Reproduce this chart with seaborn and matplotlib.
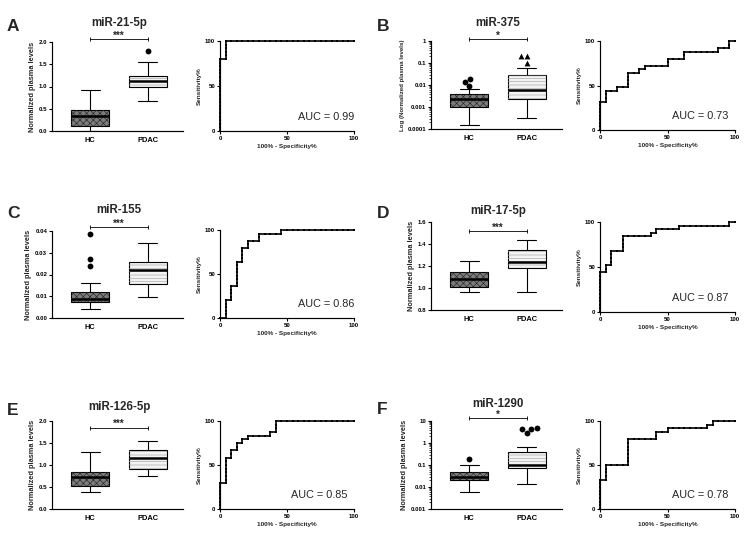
import matplotlib
matplotlib.use("Agg")
import numpy as np
import pandas as pd
import matplotlib.pyplot as plt
import matplotlib.patches as mpatches
import matplotlib.transforms as mtransforms
import seaborn as sns

groups = ["HC", "PDAC"]
titles = ["miR-21-5p", "miR-375", "miR-155", "miR-17-5p", "miR-126-5p", "miR-1290"]
letters = ["A", "B", "C", "D", "E", "F"]
stars = ["***", "*", "***", "***", "***", "*"]
auc = ["0.99", "0.73", "0.86", "0.87", "0.85", "0.78"]

# box summaries: min, q1, median, q3, max
a_hc = [0.0, 0.12, 0.34, 0.47, 0.92]
a_pdac = [0.68, 0.98, 1.12, 1.24, 1.54]
b_hc = [0.00015, 0.001, 0.0022, 0.0037, 0.0066]
b_pdac = [0.00033, 0.0024, 0.0058, 0.03, 0.058]
c_hc = [0.0042, 0.0073, 0.0088, 0.0118, 0.0161]
c_pdac = [0.0096, 0.0156, 0.0222, 0.0257, 0.0347]
d_hc = [0.961, 1.009, 1.082, 1.142, 1.248]
d_pdac = [0.961, 1.179, 1.239, 1.342, 1.439]
e_hc = [0.38, 0.53, 0.73, 0.83, 1.30]
e_pdac = [0.76, 0.91, 1.17, 1.33, 1.55]
f_hc = [0.0062, 0.020, 0.030, 0.049, 0.10]
f_pdac = [0.014, 0.072, 0.095, 0.40, 0.65]

# outliers
a_out_hc, a_out_pdac = [], [1.79]
b_out_hc, b_out_pdac = [0.0093, 0.014, 0.019], [0.097, 0.2, 0.2]
c_out_hc, c_out_pdac = [0.0238, 0.0269, 0.0386], []
d_out_hc, d_out_pdac = [], []
e_out_hc, e_out_pdac = [], []
f_out_hc, f_out_pdac = [0.19], [2.8, 4.2, 4.5, 4.8]

yticks = [[0.0, 0.5, 1.0, 1.5, 2.0], [1e-4, 1e-3, 1e-2, 1e-1, 1],
          [0.0, 0.01, 0.02, 0.03, 0.04], [0.8, 1.0, 1.2, 1.4, 1.6],
          [0.0, 0.5, 1.0, 1.5, 2.0], [1e-3, 1e-2, 1e-1, 1, 10]]
yticklabels = [["0.0", "0.5", "1.0", "1.5", "2.0"], ["0.0001", "0.001", "0.01", "0.1", "1"],
               ["0.00", "0.01", "0.02", "0.03", "0.04"], ["0.8", "1.0", "1.2", "1.4", "1.6"],
               ["0.0", "0.5", "1.0", "1.5", "2.0"], ["0.001", "0.01", "0.1", "1", "10"]]
ylabels = ["Normalized plasma levels", "Log (Normalized plasma levels)",
           "Normalized plasma levels", "Normalized plasma levels",
           "Normalized plasma levels", "Normalized plasma levels"]

# ROC points as counts (false positives of 24 HC, true positives of n PDAC)
n_hc = 24
n_pdac = [25, 25, 25, 25, 24, 24]
roc_a_fp = [0, 0, 0, 0, 0, 0, 0, 0, 0, 0, 0, 0, 0, 0, 0, 0, 0, 0, 0, 0, 0,
            1, 1, 1, 1, 1, 1,
            2, 3, 4, 5, 6, 7, 8, 9, 10, 11, 12, 13, 14, 15, 16, 17, 18, 19, 20, 21, 22, 23, 24]
roc_a_tp = [0, 1, 2, 3, 4, 5, 6, 7, 8, 9, 10, 11, 12, 13, 14, 15, 16, 17, 18, 19, 20,
            20, 21, 22, 23, 24, 25,
            25, 25, 25, 25, 25, 25, 25, 25, 25, 25, 25, 25, 25, 25, 25, 25, 25, 25, 25, 25, 25, 25, 25]
roc_b_fp = [0, 0, 0, 0, 0, 0, 0, 0, 0,
            1, 1, 1, 1,
            2, 3, 3,
            4, 5, 5, 5, 5, 5,
            6, 7, 7,
            8, 8,
            9, 10, 11, 12, 12, 12,
            13, 14, 15, 15, 15,
            16, 17, 18, 19, 20, 21, 21,
            22, 23, 23, 23,
            24]
roc_b_tp = [0, 1, 2, 3, 4, 5, 6, 7, 8,
            8, 9, 10, 11,
            11, 11, 12,
            12, 12, 13, 14, 15, 16,
            16, 16, 17,
            17, 18,
            18, 18, 18, 18, 19, 20,
            20, 20, 20, 21, 22,
            22, 22, 22, 22, 22, 22, 23,
            23, 23, 24, 25,
            25]
roc_c_fp = [0, 1,
            1, 1, 1, 1, 1,
            2, 2, 2, 2, 2,
            3, 3, 3, 3, 3, 3, 3, 3,
            4, 4, 4, 4, 4,
            5, 5, 5,
            6, 7, 7, 7,
            8, 9, 10, 11, 11,
            12, 13, 14, 15, 16, 17, 18, 19, 20, 21, 22, 23, 24]
roc_c_tp = [0, 0,
            1, 2, 3, 4, 5,
            5, 6, 7, 8, 9,
            9, 10, 11, 12, 13, 14, 15, 16,
            16, 17, 18, 19, 20,
            20, 21, 22,
            22, 22, 23, 24,
            24, 24, 24, 24, 25,
            25, 25, 25, 25, 25, 25, 25, 25, 25, 25, 25, 25, 25]
roc_d_fp = [0, 0, 0, 0, 0, 0, 0, 0, 0, 0, 0, 0,
            1, 1, 1,
            2, 2, 2, 2, 2,
            3, 4, 4, 4, 4, 4,
            5, 6, 7, 8, 9, 9,
            10, 10,
            11, 12, 13, 14, 14,
            15, 16, 17, 18, 19, 20, 21, 22, 23, 23,
            24]
roc_d_tp = [0, 1, 2, 3, 4, 5, 6, 7, 8, 9, 10, 11,
            11, 12, 13,
            13, 14, 15, 16, 17,
            17, 17, 18, 19, 20, 21,
            21, 21, 21, 21, 21, 22,
            22, 23,
            23, 23, 23, 23, 24,
            24, 24, 24, 24, 24, 24, 24, 24, 24, 25,
            25]
roc_e_fp = [0, 0, 0, 0, 0, 0, 0, 0,
            1, 1, 1, 1, 1, 1, 1, 1,
            2, 2, 2,
            3, 3, 3,
            4, 4,
            5, 5,
            6, 7, 8, 9, 9,
            10, 10, 10, 10,
            11, 12, 13, 14, 15, 16, 17, 18, 19, 20, 21, 22, 23, 24]
roc_e_tp = [0, 1, 2, 3, 4, 5, 6, 7,
            7, 8, 9, 10, 11, 12, 13, 14,
            14, 15, 16,
            16, 17, 18,
            18, 19,
            19, 20,
            20, 20, 20, 20, 21,
            21, 22, 23, 24,
            24, 24, 24, 24, 24, 24, 24, 24, 24, 24, 24, 24, 24, 24]
roc_f_fp = [0, 0, 0, 0, 0, 0, 0, 0, 0,
            1, 1, 1, 1, 1,
            2, 3, 4, 5,
            5, 5, 5, 5, 5, 5, 5,
            6, 7, 8, 9, 10,
            10, 10,
            11, 12, 12,
            13, 14, 15, 16, 17, 18, 19,
            19, 20, 20,
            21, 22, 23, 24]
roc_f_tp = [0, 1, 2, 3, 4, 5, 6, 7, 8,
            8, 9, 10, 11, 12,
            12, 12, 12, 12,
            13, 14, 15, 16, 17, 18, 19,
            19, 19, 19, 19, 19,
            20, 21,
            21, 21, 22,
            22, 22, 22, 22, 22, 22, 22,
            23, 23, 24,
            24, 24, 24, 24]

box_data = [(a_hc, a_pdac), (b_hc, b_pdac), (c_hc, c_pdac),
            (d_hc, d_pdac), (e_hc, e_pdac), (f_hc, f_pdac)]
out_data = [(a_out_hc, a_out_pdac), (b_out_hc, b_out_pdac), (c_out_hc, c_out_pdac),
            (d_out_hc, d_out_pdac), (e_out_hc, e_out_pdac), (f_out_hc, f_out_pdac)]
roc_data = [(roc_a_fp, roc_a_tp), (roc_b_fp, roc_b_tp), (roc_c_fp, roc_c_tp),
            (roc_d_fp, roc_d_tp), (roc_e_fp, roc_e_tp), (roc_f_fp, roc_f_tp)]

# layout (pixels)
W, H = 746, 551
box_rect = [(52, 42, 183, 131), (431, 41, 562, 129), (52, 231, 183, 318),
            (431, 222, 562, 310), (52, 421, 183, 509), (431, 421, 562, 509)]
roc_rect = [(220, 41, 354, 131), (600, 41, 735, 130), (220, 230, 354, 318),
            (600, 222, 735, 312), (220, 421, 354, 509), (600, 421, 735, 509)]
letter_pos = [(7, 31), (377, 31), (7, 218), (377, 218), (7, 415), (377, 414)]
title_base = [26, 26, 213, 214, 410, 407]
bracket_y = [2.06, 1.2, 0.0417, 1.518, 1.85, 13.3]
log_panel = [False, True, False, False, False, True]
ylims = [(0, 2), (1e-4, 1), (0, 0.04), (0.8, 1.6), (0, 2), (1e-3, 10)]
pdac_marker = ["o", "^", "o", "o", "o", "o"]
ylabel_size = [5.3, 4.4, 5.3, 5.3, 5.3, 5.3]
auc_x = [1.0, 0.95, 1.0, 0.95, 0.95, 0.95]

sns.set_style("ticks")
plt.rcParams["font.family"] = ["Liberation Sans", "DejaVu Sans"]
plt.rcParams["font.weight"] = "bold"
plt.rcParams["axes.labelweight"] = "bold"
plt.rcParams["axes.edgecolor"] = "black"
plt.rcParams["axes.linewidth"] = 0.85
plt.rcParams["xtick.color"] = "black"
plt.rcParams["ytick.color"] = "black"
plt.rcParams["xtick.major.size"] = 2
plt.rcParams["ytick.major.size"] = 2
plt.rcParams["ytick.minor.size"] = 1.2
plt.rcParams["xtick.major.width"] = 0.8
plt.rcParams["ytick.major.width"] = 0.8
plt.rcParams["ytick.minor.width"] = 0.5
plt.rcParams["hatch.linewidth"] = 0.45


def rect(r):
    l, t, rr, b = r
    return [l / W, 1 - b / H, (rr - l) / W, (b - t) / H]


fig = plt.figure(figsize=(W / 100, H / 100), dpi=100)

for i in range(6):
    # box plot panel
    ax = fig.add_axes(rect(box_rect[i]))
    hc, pdac = box_data[i]
    df = pd.DataFrame({"group": ["HC"] * len(hc) + ["PDAC"] * len(pdac),
                       "value": hc + pdac})
    logs = True if log_panel[i] else None
    sns.boxplot(data=df, x="group", y="value", hue="group", order=groups, hue_order=groups,
                palette={"HC": "#7c7c7c", "PDAC": "#f3f3f3"}, width=0.66, whis=(0, 100),
                linecolor="black", linewidth=0.8, showfliers=False, legend=False,
                log_scale=logs, medianprops={"linewidth": 1.8}, ax=ax)
    for patch, hatch, hcol in zip(list(ax.patches[:2]), ["xxxxx", "-----"], ["#262626", "#a5a5a5"]):
        ax.add_patch(mpatches.PathPatch(patch.get_path(), transform=patch.get_transform(),
                                        facecolor="none", edgecolor=hcol, linewidth=0,
                                        hatch=hatch, zorder=patch.get_zorder() + 0.05))

    o_hc, o_pdac = out_data[i]
    for vals, grp, mk in [(o_hc, "HC", "o"), (o_pdac, "PDAC", pdac_marker[i])]:
        if vals:
            odf = pd.DataFrame({"group": [grp] * len(vals), "value": vals})
            sns.swarmplot(data=odf, x="group", y="value", order=groups, color="black",
                          size=4.2, marker=mk, log_scale=logs, ax=ax)

    ax.set_xlim(-0.66, 1.61)
    ax.set_ylim(ylims[i])
    ax.set_yticks(yticks[i])
    ax.set_yticklabels(yticklabels[i])
    ax.set_xlabel("")
    ax.set_ylabel(ylabels[i], fontsize=ylabel_size[i], labelpad=2)
    ax.tick_params(axis="x", length=0, pad=4, labelsize=5.4)
    ax.tick_params(axis="y", which="both", labelsize=4.4, pad=1.5)
    sns.despine(ax=ax)

    yb = bracket_y[i]
    ax.plot([0, 1], [yb, yb], color="black", lw=0.6, marker="|", markersize=3,
            markeredgewidth=0.6, clip_on=False)
    ax.annotate(stars[i], xy=(0.5, yb), xytext=(0, 0.2), textcoords="offset points",
                ha="center", va="baseline", fontsize=7, annotation_clip=False)

    trans = mtransforms.blended_transform_factory(ax.transData, fig.transFigure)
    ax.text(0.5, 1 - title_base[i] / H, titles[i], transform=trans, ha="center",
            va="baseline", fontsize=8.3, fontweight="bold")
    lx, ly = letter_pos[i]
    fig.text(lx / W, 1 - ly / H, letters[i], fontsize=12.5, fontweight="bold", va="baseline")

    # ROC panel
    ax2 = fig.add_axes(rect(roc_rect[i]))
    fp, tp = roc_data[i]
    fpr = [100 * v / n_hc for v in fp]
    tpr = [100 * v / n_pdac[i] for v in tp]
    sns.lineplot(x=fpr, y=tpr, sort=False, estimator=None, color="black", linewidth=1.2,
                 marker="s", markersize=1.9, markeredgewidth=0, ax=ax2)
    for ln in ax2.lines:
        ln.set_clip_on(False)
    ax2.set_xlim(0, 100)
    ax2.set_ylim(0, 100)
    ax2.set_xticks([0, 50, 100])
    ax2.set_yticks([0, 50, 100])
    ax2.set_xlabel("100% - Specificity%", fontsize=4.6, labelpad=2)
    ax2.set_ylabel("Sensitivity%", fontsize=4.6, labelpad=2)
    ax2.tick_params(labelsize=4.4, pad=1.5)
    ax2.text(auc_x[i], 0.16, "AUC = " + auc[i], transform=ax2.transAxes, ha="right",
             va="center", fontsize=7.8, fontweight="normal")
    sns.despine(ax=ax2)

fig.savefig("out.png", dpi=100)
